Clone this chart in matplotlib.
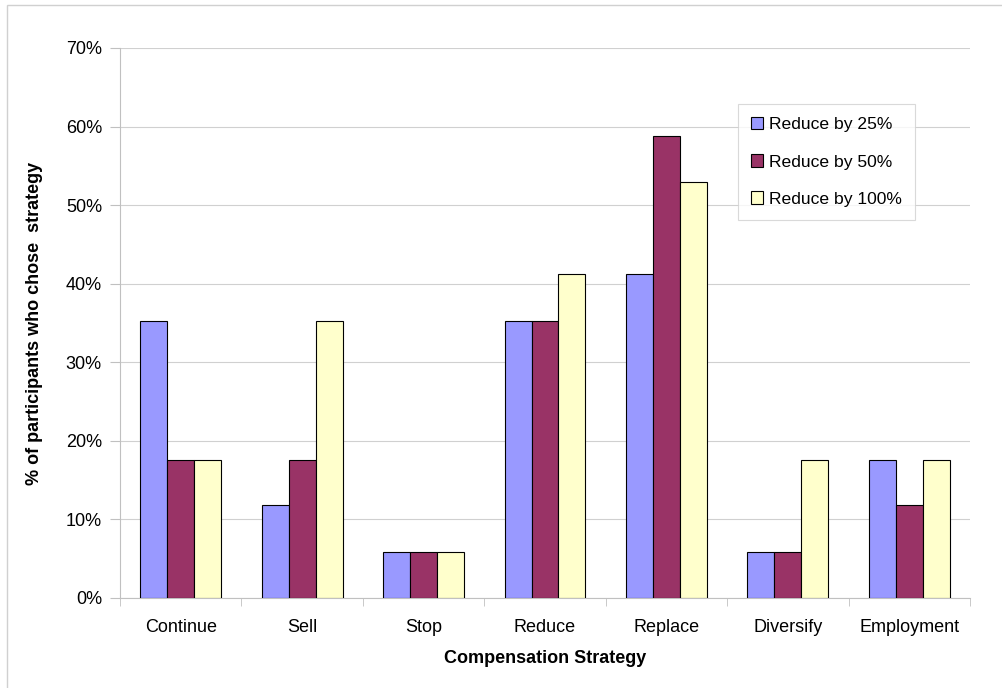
import numpy as np
import matplotlib.pyplot as plt
from matplotlib.patches import Rectangle
from matplotlib.ticker import FuncFormatter, MultipleLocator

plt.rcParams['font.family'] = ['Liberation Sans', 'DejaVu Sans']

strategies = ["Continue", "Sell", "Stop", "Reduce", "Replace", "Diversify", "Employment"]
series_names = ["Reduce by 25%", "Reduce by 50%", "Reduce by 100%"]
reduce_25 = [35.3, 11.8, 5.9, 35.3, 41.2, 5.9, 17.6]
reduce_50 = [17.6, 17.6, 5.9, 35.3, 58.8, 5.9, 11.8]
reduce_100 = [17.6, 35.3, 5.9, 41.2, 52.9, 17.6, 17.6]
colors = ["#9999FF", "#993366", "#FFFFCC"]

fig = plt.figure(figsize=(10.03, 6.88), dpi=100)
# thin outer frame of the chart area
fig.patches.append(Rectangle((7 / 1003, -0.01), 1.0, 1 - 5 / 688 + 0.01,
                             transform=fig.transFigure, fill=False,
                             edgecolor="#d0d0d0", linewidth=1.0))

ax = fig.add_axes([120 / 1003, 90 / 688, 850 / 1003, 550 / 688])

x = np.arange(len(strategies))
w = 0.222
for i, (vals, name) in enumerate(zip([reduce_25, reduce_50, reduce_100], series_names)):
    ax.bar(x + (i - 1) * w, vals, width=w, color=colors[i], edgecolor="black",
           linewidth=0.8, label=name, zorder=3)

ax.set_xlim(-0.5, len(strategies) - 0.5)
ax.set_ylim(0, 70)
ax.yaxis.set_major_locator(MultipleLocator(10))
ax.yaxis.set_major_formatter(FuncFormatter(lambda v, p: f"{v:.0f}%"))
ax.grid(axis="y", color="#d0d0d0", linewidth=0.8, zorder=0)

ax.set_xticks(x)
ax.set_xticklabels(strategies, fontsize=13)
ax.tick_params(axis="x", length=0, pad=15)
ax.set_xticks(np.arange(-0.5, len(strategies)), minor=True)
ax.tick_params(axis="x", which="minor", length=6, color="#c0c0c0")
ax.tick_params(axis="y", labelsize=13, length=7, color="#c0c0c0", pad=6)

for side in ["top", "right"]:
    ax.spines[side].set_visible(False)
for side in ["left", "bottom"]:
    ax.spines[side].set_color("#c0c0c0")

ax.set_ylabel("% of participants who chose  strategy", fontsize=13,
              fontweight="bold", labelpad=16)
ax.set_xlabel("Compensation Strategy", fontsize=13, fontweight="bold", labelpad=10)

leg = ax.legend(loc="upper left", bbox_to_anchor=(618 / 850, 1 - 56 / 550),
                fontsize=12.6, frameon=True, fancybox=False, borderpad=0.75,
                labelspacing=1.25, handlelength=0.7, handleheight=0.7,
                handletextpad=0.3, borderaxespad=0)
leg.get_frame().set_edgecolor("#d0d0d0")
leg.get_frame().set_linewidth(0.8)

fig.savefig("out.png", dpi=100)
